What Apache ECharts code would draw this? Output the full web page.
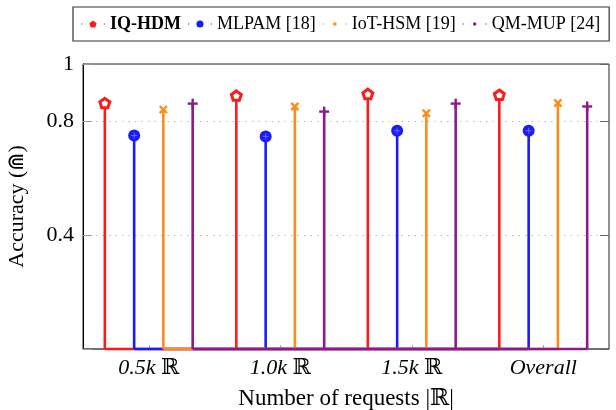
<!DOCTYPE html>
<html>
<head>
<meta charset="utf-8">
<script src="https://cdn.jsdelivr.net/npm/echarts@6/dist/echarts.min.js"></script>
<style>
html,body{margin:0;padding:0;background:#fff;}
#chart{width:616px;height:410px;}
</style>
</head>
<body>
<div id="chart"></div>
<script>
// ---- data ----
const categories = ['0.5k ℝ', '1.0k ℝ', '1.5k ℝ', 'Overall'];
const seriesNames = ['IQ-HDM', 'MLPAM [18]', 'IoT-HSM [19]', 'QM-MUP [24]'];
const iqHdm  = [0.863, 0.889, 0.895, 0.892];
const mlpam  = [0.749, 0.746, 0.766, 0.766];
const iotHsm = [0.840, 0.851, 0.827, 0.863];
const qmMup  = [0.861, 0.833, 0.861, 0.851];
const yTickLabels = ['0.4', '0.8', '1'];

const colors = ['#ff1a1a', '#1a1aff', '#ff8c1a', '#8c1a8c'];
const markerKinds = ['pentagon', 'circle', 'cross', 'plus'];
const offsets = [-0.334, -0.111, 0.111, 0.334];
const FONT = "'Liberation Serif','DejaVu Serif',serif";

function pentagonPoints(cx, cy, r) {
  const pts = [];
  for (let k = 0; k < 5; k++) {
    const a = -Math.PI / 2 + k * 2 * Math.PI / 5;
    pts.push([cx + r * Math.cos(a), cy + r * Math.sin(a)]);
  }
  return pts;
}

function markerShape(kind, x, y, color) {
  if (kind === 'pentagon') {
    return { type: 'polygon', shape: { points: pentagonPoints(x, y + 0.5, 5.2) },
      style: { fill: '#fff', stroke: color, lineWidth: 3 } };
  }
  if (kind === 'circle') {
    return { type: 'group', children: [
      { type: 'circle', shape: { cx: x, cy: y, r: 6 }, style: { fill: color } },
      { type: 'line', shape: { x1: x - 3, y1: y, x2: x + 3, y2: y }, style: { stroke: '#7a7aff', lineWidth: 0.8 } },
      { type: 'line', shape: { x1: x, y1: y - 3, x2: x, y2: y + 3 }, style: { stroke: '#7a7aff', lineWidth: 0.8 } }
    ] };
  }
  if (kind === 'cross') {
    const d = 3.6;
    return { type: 'group', children: [
      { type: 'line', shape: { x1: x - d, y1: y - d, x2: x + d, y2: y + d }, style: { stroke: color, lineWidth: 2.4 } },
      { type: 'line', shape: { x1: x - d, y1: y + d, x2: x + d, y2: y - d }, style: { stroke: color, lineWidth: 2.4 } }
    ] };
  }
  const d = 5;
  return { type: 'group', children: [
    { type: 'line', shape: { x1: x - d, y1: y, x2: x + d, y2: y }, style: { stroke: color, lineWidth: 2.4 } },
    { type: 'line', shape: { x1: x, y1: y - d, x2: x, y2: y + d }, style: { stroke: color, lineWidth: 2.4 } }
  ] };
}

function makeSeries(name, values, s) {
  return {
    name: name,
    type: 'custom',
    itemStyle: { color: colors[s] },
    data: values.map((v, i) => [i, v]),
    encode: { x: 0, y: 1 },
    clip: false,
    renderItem: function (params, api) {
      const i = api.value(0), v = api.value(1);
      const band = api.size([1, 0])[0];
      const off = offsets[s] * band;
      const top = api.coord([i, v]);
      const base = api.coord([i, 0]);
      const x = top[0] + off;
      const children = [];
      if (params.dataIndex === 0) {
        const first = api.coord([0, 0])[0] + off;
        const last = api.coord([values.length - 1, 0])[0] + off;
        children.push({ type: 'line', shape: { x1: first, y1: base[1], x2: last, y2: base[1] },
          style: { stroke: colors[s], lineWidth: 2.4 } });
      }
      children.push({ type: 'line', shape: { x1: x, y1: top[1], x2: x, y2: base[1] },
        style: { stroke: colors[s], lineWidth: 2.6 } });
      children.push(markerShape(markerKinds[s], x, top[1], colors[s]));
      return { type: 'group', children: children };
    }
  };
}

// legend icons (24 x 8 box)
function pentPath() {
  const p = pentagonPoints(12, 4.4, 3.8);
  return 'path://M0 3.4h1.2v1.2h-1.2Z M22.8 3.4h1.2v1.2h-1.2Z M12 0L12 0 M12 8L12 8 M' +
    p.map(q => q[0].toFixed(2) + ' ' + q[1].toFixed(2)).join(' L') + 'Z';
}
const legendIcons = [
  pentPath(),
  'path://M0 3.4h1.2v1.2h-1.2Z M22.8 3.4h1.2v1.2h-1.2Z M12 0L12 0 M12 8L12 8 M8.4 4a3.6 3.6 0 1 0 7.2 0a3.6 3.6 0 1 0 -7.2 0Z',
  'path://M0 3.4h1.2v1.2h-1.2Z M22.8 3.4h1.2v1.2h-1.2Z M12 0L12 0 M12 8L12 8 M10.4 2.4h3.2v3.2h-3.2Z',
  'path://M0 3.4h1.2v1.2h-1.2Z M22.8 3.4h1.2v1.2h-1.2Z M12 0L12 0 M12 8L12 8 M10.3 4a1.7 1.7 0 1 0 3.4 0a1.7 1.7 0 1 0 -3.4 0Z'
];

const chart = echarts.init(document.getElementById('chart'), null, { renderer: 'canvas' });
const allSeries = [iqHdm, mlpam, iotHsm, qmMup].map((vals, s) => makeSeries(seriesNames[s], vals, s));

chart.setOption({
  animation: false,
  backgroundColor: '#fff',
  textStyle: { fontFamily: FONT },
  legend: {
    left: 73, top: 7,
    padding: [8, 9, 8, 8],
    itemWidth: 24, itemHeight: 8, itemGap: 7,
    borderColor: '#333', borderWidth: 1.2,
    selectedMode: false,
    textStyle: { fontFamily: FONT, fontSize: 18, color: '#000' },
    data: seriesNames.map((n, s) => ({
      name: n, icon: legendIcons[s],
      textStyle: s === 0 ? { fontWeight: 'bold', fontFamily: FONT, fontSize: 18, color: '#000' } : undefined
    }))
  },
  grid: { left: 83, right: 7, top: 64, bottom: 61, show: true, borderColor: '#222', borderWidth: 1, outerBoundsMode: 'none' },
  xAxis: {
    type: 'category',
    data: categories,
    boundaryGap: true,
    axisLine: { show: true, lineStyle: { color: '#666', width: 1.5 } },
    axisTick: { show: true, inside: true, alignWithLabel: true, length: 4, lineStyle: { color: '#aaa' } },
    axisLabel: {
      interval: 0,
      margin: 8, color: '#000', fontFamily: FONT, fontSize: 22,
      formatter: function (v) {
        const parts = v.split(' ℝ');
        return parts.length > 1 ? '{i|' + parts[0] + '} {r|ℝ}' : '{i|' + v + '}';
      },
      rich: {
        i: { fontStyle: 'italic', fontFamily: FONT, fontSize: 22, color: '#000' },
        r: { fontFamily: FONT, fontSize: 22, color: '#000' }
      }
    },
    name: 'Number of requests |ℝ|',
    nameLocation: 'middle', nameGap: 38,
    nameTextStyle: { fontFamily: FONT, fontSize: 23, color: '#000' }
  },
  yAxis: [{
    type: 'value', min: 0, max: 1, interval: 0.4,
    axisLine: { show: true, lineStyle: { color: '#000', width: 1 } },
    axisTick: { show: true, inside: true, length: 9, lineStyle: { color: '#999' } },
    axisLabel: {
      margin: 9, color: '#000', fontFamily: FONT, fontSize: 22,
      formatter: function (v) {
        const s = String(+v.toFixed(2));
        return yTickLabels.indexOf(s) >= 0 ? s : '';
      }
    },
    splitLine: { show: true, showMinLine: false, showMaxLine: false, lineStyle: { color: '#bbb', type: [1.5, 5], width: 1 } },
    name: 'Accuracy (⋒)',
    nameLocation: 'middle', nameGap: 55, nameRotate: 90,
    nameTextStyle: { fontFamily: FONT, fontSize: 22, color: '#000' }
  }, {
    type: 'value', min: 0, max: 1, interval: 0.4, position: 'right',
    axisLine: { show: false },
    axisTick: { show: true, inside: true, length: 9, lineStyle: { color: '#666' } },
    axisLabel: { show: false },
    splitLine: { show: false }
  }],
  series: allSeries
});
</script>
</body>
</html>
